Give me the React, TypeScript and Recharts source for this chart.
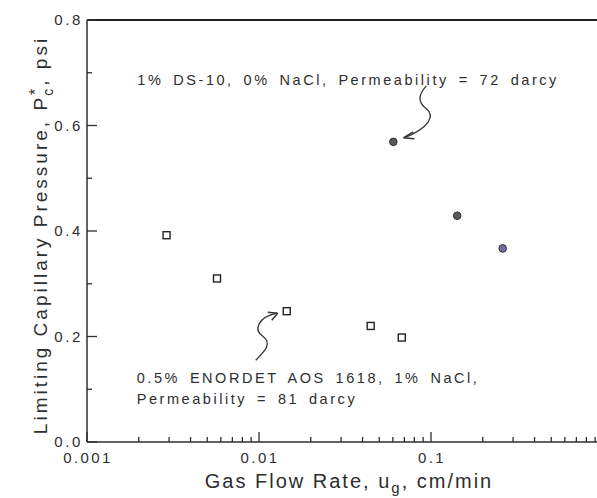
import React from "react";
import { ScatterChart, Scatter, XAxis, YAxis, Cell, ReferenceLine, ReferenceDot } from "recharts";

// ---- data ----
const squareX = [0.0029, 0.0057, 0.0145, 0.0446, 0.0676];
const squareY = [0.392, 0.31, 0.248, 0.22, 0.198];

const circleX = [0.0604, 0.142, 0.261];
const circleY = [0.569, 0.429, 0.367];
const circleColors = ["#5a5a5a", "#5a5a5a", "#6e6ea0"];

const xMajorTicks = [0.001, 0.01, 0.1, 1];
const xMajorLabels = ["0.001", "0.01", "0.1", ""];
const xMinorTicks = [
  0.002, 0.003, 0.004, 0.005, 0.006, 0.007, 0.008, 0.009,
  0.02, 0.03, 0.04, 0.05, 0.06, 0.07, 0.08, 0.09,
  0.2, 0.3, 0.4, 0.5, 0.6, 0.7, 0.8, 0.9,
];
const yMajorTicks = [0, 0.2, 0.4, 0.6, 0.8];
const yMinorTicks = [0.1, 0.3, 0.5, 0.7];

const topNote = "1% DS-10, 0% NaCl, Permeability = 72 darcy";
const bottomNote1 = "0.5% ENORDET AOS 1618, 1% NaCl,";
const bottomNote2 = "Permeability = 81 darcy";

const squares = squareX.map((x, i) => ({ x, y: squareY[i] }));
const circles = circleX.map((x, i) => ({ x, y: circleY[i] }));
const xTicks = [...xMajorTicks, ...xMinorTicks].sort((a, b) => a - b);
const yTicks = [...yMajorTicks, ...yMinorTicks].sort((a, b) => a - b);

const FONT = '"Liberation Sans", Arial, Helvetica, sans-serif';
const INK = "#2e2e2e";

const XTick = (props: any) => {
  const { x, y, payload } = props;
  const v = payload.value;
  const mi = xMajorTicks.indexOf(v);
  const major = mi >= 0;
  return (
    <g>
      <line x1={x} x2={x} y1={y} y2={y - (major ? 10 : 5)} stroke={INK} strokeWidth={1.3} />
      {major && xMajorLabels[mi] ? (
        <text x={x + 1} y={y + 21} textAnchor="middle" fontSize={15} letterSpacing={2.4} fill={INK} fontFamily={FONT}>
          {xMajorLabels[mi]}
        </text>
      ) : null}
    </g>
  );
};

const YTick = (props: any) => {
  const { x, y, payload } = props;
  const v = payload.value;
  const major = yMajorTicks.includes(v);
  return (
    <g>
      <line x1={x} x2={x + (major ? 10 : 5)} y1={y} y2={y} stroke={INK} strokeWidth={1.3} />
      {major ? (
        <text x={x - 4} y={y + 5} textAnchor="end" fontSize={15} letterSpacing={2.6} fill={INK} fontFamily={FONT}>
          {v.toFixed(1)}
        </text>
      ) : null}
    </g>
  );
};

const SquareShape = (p: any) => (
  <rect x={p.cx - 3.5} y={p.cy - 3.5} width={7} height={7} fill="#fff" stroke="#222" strokeWidth={1.4} />
);
const CircleShape = (p: any) => (
  <circle cx={p.cx} cy={p.cy} r={3.8} fill={p.fill} stroke="#333" strokeWidth={1} />
);

const TopArrow = (p: any) => {
  const { cx, cy } = p;
  return (
    <g>
      <path
        d={`M ${cx + 33} ${cy - 56} C ${cx + 25} ${cy - 47} ${cx + 24} ${cy - 40} ${cx + 33} ${cy - 33} C ${cx + 42} ${cy - 26} ${cx + 36} ${cy - 14} ${cx + 11} ${cy - 4}`}
        fill="none" stroke="#333" strokeWidth={1.3}
      />
      <path d={`M ${cx + 10} ${cy - 4} L ${cx + 20} ${cy - 10} M ${cx + 10} ${cy - 4} L ${cx + 21} ${cy - 3}`} stroke="#333" strokeWidth={1.5} fill="none" />
      <text x={cx - 256} y={cy - 57} fontSize={14.5} letterSpacing={2.55} wordSpacing={3.3} fill={INK} fontFamily={FONT}>
        {topNote}
      </text>
    </g>
  );
};

const BottomArrow = (p: any) => {
  const { cx, cy } = p;
  return (
    <g>
      <path
        d={`M ${cx - 31} ${cy + 49} C ${cx - 22} ${cy + 40} ${cx - 14} ${cy + 32} ${cx - 24} ${cy + 25} C ${cx - 34} ${cy + 18} ${cx - 28} ${cy + 6} ${cx - 10} ${cy + 2}`}
        fill="none" stroke="#333" strokeWidth={1.3}
      />
      <path d={`M ${cx - 9} ${cy + 2} L ${cx - 19} ${cy + 1} M ${cx - 9} ${cy + 2} L ${cx - 15} ${cy + 9}`} stroke="#333" strokeWidth={1.5} fill="none" />
      <text x={cx - 150} y={cy + 72} fontSize={14.5} letterSpacing={2.55} wordSpacing={3.3} fill={INK} fontFamily={FONT}>
        {bottomNote1}
      </text>
      <text x={cx - 150} y={cy + 93} fontSize={14.5} letterSpacing={2.55} wordSpacing={3.3} fill={INK} fontFamily={FONT}>
        {bottomNote2}
      </text>
    </g>
  );
};

const YLabel = (p: any) => {
  const vb = p.viewBox || { y: 20, height: 422 };
  const cy = vb.y + vb.height / 2 + 4;
  return (
    <text transform={`translate(47, ${cy}) rotate(-90)`} textAnchor="middle" fontSize={19} letterSpacing={3} fill={INK} fontFamily={FONT}>
      <tspan>Limiting Capillary Pressure, P</tspan>
      <tspan dy={-6} fontSize={16} letterSpacing={0}>*</tspan>
      <tspan dx={-7} dy={12} fontSize={14}>c</tspan>
      <tspan dy={-6}>, psi</tspan>
    </text>
  );
};

const XLabel = (p: any) => {
  return (
    <text x={349} y={488} textAnchor="middle" fontSize={20} letterSpacing={2} fill={INK} fontFamily={FONT}>
      <tspan>Gas Flow Rate, u</tspan>
      <tspan dy={5} fontSize={15}>g</tspan>
      <tspan dy={-5}>, cm/min</tspan>
    </text>
  );
};

export default function App() {
  return (
    <div style={{ position: "absolute", left: 0, top: 0, width: 597, height: 498, overflow: "hidden", background: "#fff" }}>
      <ScatterChart width={620} height={498} margin={{ top: 20, right: 17, bottom: 16, left: 27 }}>
        <XAxis
          dataKey="x"
          type="number"
          scale="log"
          domain={[0.001, 1]}
          ticks={xTicks}
          interval={0}
          tick={<XTick />}
          tickLine={false}
          tickSize={0}
          tickMargin={0}
          height={40}
          axisLine={{ stroke: INK, strokeWidth: 1.5 }}
          allowDataOverflow
          label={<XLabel />}
        />
        <YAxis
          dataKey="y"
          type="number"
          domain={[0, 0.8]}
          ticks={yTicks}
          interval={0}
          tick={<YTick />}
          tickLine={false}
          tickSize={0}
          tickMargin={0}
          width={60}
          axisLine={{ stroke: INK, strokeWidth: 1.5 }}
          allowDataOverflow
          label={<YLabel />}
        />
        <ReferenceLine y={0.8} stroke="#222" strokeWidth={1.8} />
        <Scatter data={squares} shape={<SquareShape />} isAnimationActive={false} />
        <Scatter data={circles} shape={<CircleShape />} isAnimationActive={false}>
          {circles.map((_, i) => (
            <Cell key={i} fill={circleColors[i]} />
          ))}
        </Scatter>
        <ReferenceDot x={circleX[0]} y={circleY[0]} r={0} shape={<TopArrow />} />
        <ReferenceDot x={squareX[2]} y={squareY[2]} r={0} shape={<BottomArrow />} />
      </ScatterChart>
    </div>
  );
}
